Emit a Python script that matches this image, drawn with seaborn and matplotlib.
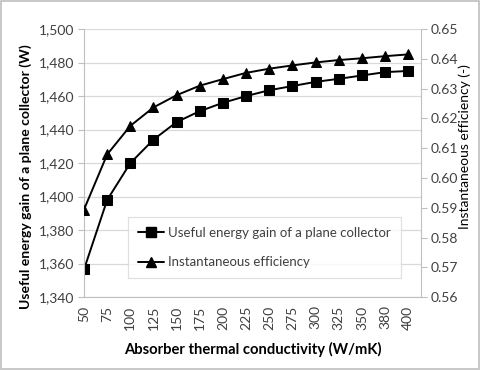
import matplotlib
matplotlib.use("Agg")
import matplotlib.pyplot as plt
import seaborn as sns
import pandas as pd
from matplotlib.lines import Line2D
from matplotlib.patches import Rectangle

conductivity = ["50", "75", "100", "125", "150", "175", "200", "225", "250",
                "275", "300", "325", "350", "380", "400"]
useful_gain = [1356.5, 1398, 1420, 1434, 1444.5, 1451, 1456, 1460, 1463.5,
               1466, 1468.5, 1470.3, 1472.3, 1474.3, 1475]
efficiency = [0.5894, 0.6079, 0.6175, 0.6237, 0.6278, 0.6310, 0.6332, 0.6353,
              0.6367, 0.6378, 0.6388, 0.6396, 0.6402, 0.6409, 0.6415]
left_ticks = [1340, 1360, 1380, 1400, 1420, 1440, 1460, 1480, 1500]
right_ticks = [0.56, 0.57, 0.58, 0.59, 0.60, 0.61, 0.62, 0.63, 0.64, 0.65]

sns.set_style("white")
plt.rcParams['font.family'] = ['Lato', 'DejaVu Sans']

df = pd.DataFrame({"k": conductivity, "gain": useful_gain, "eff": efficiency})
df["pos"] = range(len(conductivity))

fig = plt.figure(figsize=(4.8, 3.7), dpi=100)
ax = fig.add_axes([0.175, 0.197, 0.702, 0.7244])
ax2 = ax.twinx()

sns.lineplot(data=df, x="pos", y="gain", ax=ax, color="black", lw=1.4,
             marker="s", markersize=7, markeredgecolor="black")
sns.lineplot(data=df, x="pos", y="eff", ax=ax2, color="black", lw=1.4,
             marker="^", markersize=7, markeredgecolor="black")

ax.set_xlim(0, 14.55)
ax.set_ylim(1340, 1500)
ax2.set_ylim(0.56, 0.65)
ax.set_yticks(left_ticks)
ax.set_yticklabels([f"{v:,}" for v in left_ticks])
ax2.set_yticks(right_ticks)
ax2.set_yticklabels([f"{v:.2f}" for v in right_ticks])
ax.set_xticks(df["pos"])
ax.set_xticklabels(conductivity, rotation=90)

ax.grid(axis="y", color="#d9d9d9", lw=0.9)
ax.set_axisbelow(True)

for a in (ax, ax2):
    for s in a.spines.values():
        s.set_visible(False)
    a.tick_params(labelsize=10, colors="#404040", length=4, width=0.8)
ax.tick_params(axis="x", labelcolor="#404040", color="#bfbfbf", pad=2)
ax.tick_params(axis="y", color="#bfbfbf", direction="out", left=True, pad=3)
ax2.tick_params(axis="y", color="#bfbfbf", direction="out", right=True, pad=3)
ax.spines["left"].set_visible(True)
ax.spines["left"].set_color("#bfbfbf")
ax.spines["bottom"].set_visible(True)
ax.spines["bottom"].set_color("#bfbfbf")
ax2.spines["right"].set_visible(True)
ax2.spines["right"].set_color("#bfbfbf")

ax.set_xlabel("Absorber thermal conductivity (W/mK)", fontsize=10.6,
              fontweight="bold", color="black", labelpad=9)
ax.set_ylabel("Useful energy gain of a plane collector (W)", fontsize=10.1,
              fontweight="bold", color="black")
ax.yaxis.set_label_coords(-0.155, 0.45)
ax2.set_ylabel("Instantaneous efficiency (-)", fontsize=10, color="black")
ax2.yaxis.set_label_coords(1.11, 0.56)

handles = [Line2D([], [], color="black", lw=1.4, marker="s", markersize=6.5),
           Line2D([], [], color="black", lw=1.4, marker="^", markersize=6.5)]
labels = ["Useful energy gain of a plane collector", "Instantaneous efficiency"]
leg = ax2.legend(handles, labels, loc="upper left",
                 bbox_to_anchor=(0.131, 0.2985),
                 fontsize=9.5, frameon=True, fancybox=False, edgecolor="#d9d9d9",
                 handlelength=2.0, handletextpad=0.3, labelspacing=1.3,
                 borderpad=0.75, borderaxespad=0, labelcolor="#404040")
leg.get_frame().set_linewidth(0.9)

fig.patches.append(Rectangle((0.002, 0.002), 0.996, 0.996, transform=fig.transFigure,
                             fill=False, edgecolor="#bfbfbf", lw=1.2))

fig.savefig("out.png", dpi=100)
